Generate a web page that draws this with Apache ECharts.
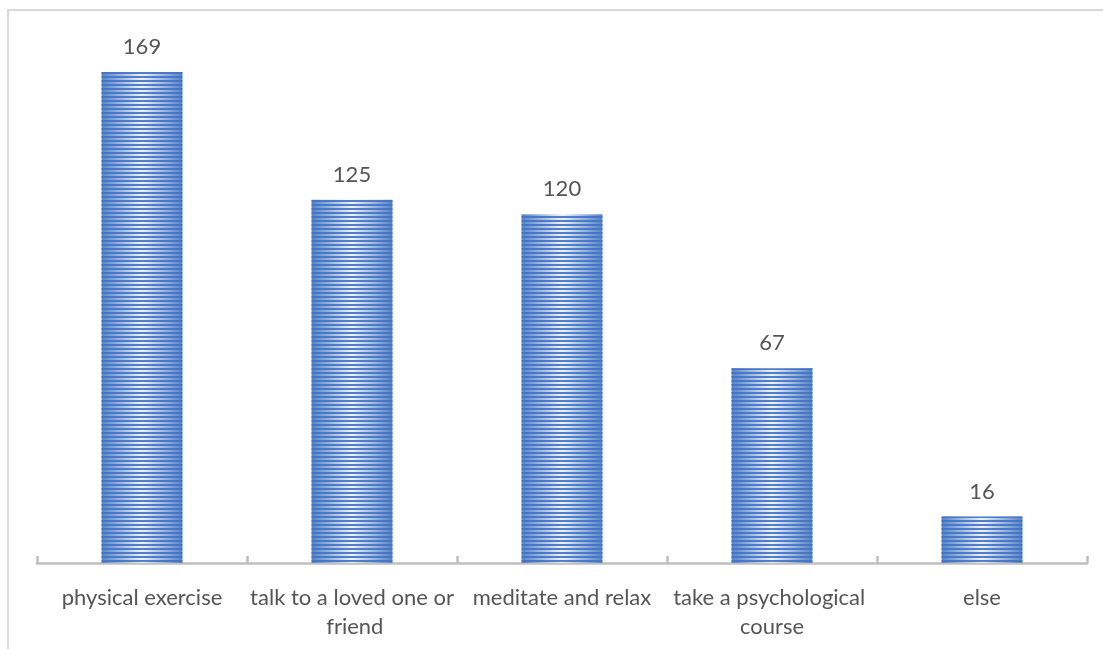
<!DOCTYPE html>
<html>
<head>
<meta charset="utf-8">
<style>
  html, body { margin: 0; padding: 0; background: #ffffff; }
  #chart { width: 1103px; height: 649px; }
</style>
<script src="https://cdn.jsdelivr.net/npm/echarts@6/dist/echarts.min.js"></script>
</head>
<body>
<div id="chart"></div>
<script>
// Ways of coping with stress, number of respondents
const categories = [
  'physical exercise',
  'talk to a loved one or friend',
  'meditate and relax',
  'take a psychological course',
  'else'
];
const counts = [169, 125, 120, 67, 16];

const chart = echarts.init(document.getElementById('chart'), null, { renderer: 'canvas' });

const textColor = '#555555';
const fontFamily = 'Lato, "Open Sans", sans-serif';

chart.setOption({
  animation: false,
  backgroundColor: '#ffffff',
  graphic: [
    // frame edges along the top and left
    { type: 'rect', shape: { x: 7, y: 9, width: 1096, height: 2 }, style: { fill: '#d9d9d9' }, silent: true },
    { type: 'rect', shape: { x: 7, y: 9, width: 2, height: 640 }, style: { fill: '#d9d9d9' }, silent: true }
  ],
  grid: { left: 37, right: 16, top: 40, bottom: 86, containLabel: false },
  xAxis: {
    type: 'category',
    data: categories,
    axisLine: { show: true, lineStyle: { color: '#bfbfbf', width: 2.5 } },
    axisTick: { show: true, inside: true, length: 7, alignWithLabel: false, lineStyle: { color: '#bfbfbf', width: 2.5 } },
    axisLabel: {
      color: textColor,
      fontFamily: fontFamily,
      fontSize: 22,
      lineHeight: 29,
      margin: 20,
      interval: 0,
      width: 208,
      overflow: 'break'
    },
    splitLine: { show: false }
  },
  yAxis: {
    type: 'value',
    min: 0,
    max: 180,
    show: false,
    splitLine: { show: false }
  },
  series: [{
    type: 'bar',
    data: counts,
    barWidth: '38.5%',
    itemStyle: {
      color: {
        type: 'linear', x: 0, y: 0, x2: 1, y2: 0,
        colorStops: [
          { offset: 0, color: '#5585c8' },
          { offset: 0.5, color: '#eef3fa' },
          { offset: 1, color: '#5585c8' }
        ]
      },
      decal: {
        symbol: 'rect',
        symbolSize: 1,
        dashArrayX: [1, 0],
        dashArrayY: [1.2, 1.8],
        rotation: 0,
        color: 'rgba(68, 114, 196, 0.9)'
      }
    },
    label: {
      show: true,
      position: 'top',
      distance: 14,
      color: textColor,
      fontFamily: fontFamily,
      fontSize: 22
    }
  }]
});
</script>
</body>
</html>
